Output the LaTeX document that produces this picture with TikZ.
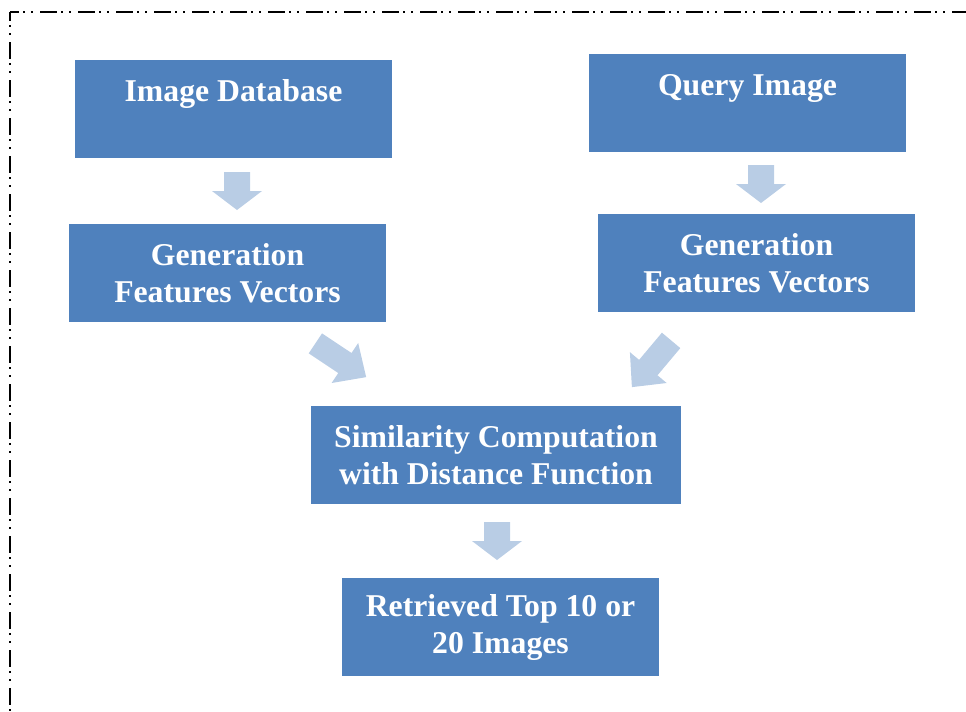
\documentclass[tikz,border=0pt]{standalone}
\usepackage{fontspec}
\setmainfont{Liberation Serif}
\begin{document}
\begin{tikzpicture}[x=0.75pt,y=-0.75pt,
  box/.style={fill=boxblue, draw=none, minimum width=237.75pt, minimum height=73.5pt,
    inner sep=0pt, align=center, text=white,
    font=\fontsize{23.8}{27.75}\selectfont\bfseries},
  border/.style={line width=1.4pt, dash pattern=on 12.5pt off 3.5pt on 1.5pt off 4.5pt on 1.5pt off 5pt, dash phase=6pt},
  downarr/.pic={\fill[arrowblue] (-19,-13)--(0,-13)--(0,-25)--(19,0)--(0,25)--(0,13)--(-19,13)--cycle;},
  diagarr/.pic={\fill[arrowblue] (-30.5,-12)--(5,-12)--(5,-24)--(30.5,0)--(5,24)--(5,12)--(-30.5,12)--cycle;}
]
\definecolor{boxblue}{HTML}{4F81BD}
\definecolor{arrowblue}{HTML}{B9CDE5}
\path[use as bounding box] (0,0) rectangle (966,711);
\clip (0,0) rectangle (966,711);
\draw[border] (10,12) -- (1000,12);
\draw[border] (10,12) -- (10,760);

\node[box] (db) at (233.5,109) {Image Database\\\mbox{}};
\node[box] (q) at (747.5,103) {Query Image\\\mbox{}};
\node[box] (gl) at (227.5,273) {Generation\\Features Vectors};
\node[box] (gr) at (756.5,263) {Generation\\Features Vectors};
\node[box, minimum width=277.5pt] (sim) at (496,455) {Similarity Computation\\with Distance Function};
\node[box] (ret) at (500.5,627) {Retrieved Top 10 or\\20 Images};

\pic[rotate=-90] at (237,191) {downarr};
\pic[rotate=-90] at (761,184) {downarr};
\pic[rotate=-33.6] at (340.75,360.25) {diagarr};
\pic[rotate=-130] at (651.5,363.75) {diagarr};
\pic[rotate=-90] at (497,541) {downarr};
\end{tikzpicture}
\end{document}
